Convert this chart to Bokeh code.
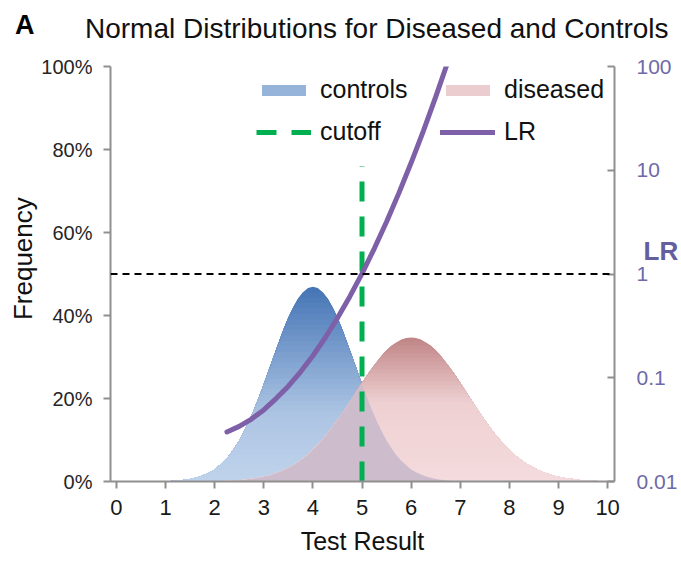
import json
import numpy as np
from bokeh.plotting import figure
from bokeh.models import (Range1d, LogScale, LogAxis, LinearAxis, FixedTicker,
                          NumeralTickFormatter, CustomJSTickFormatter, Span, Legend, LegendItem)
from bokeh.embed import file_html
from bokeh.resources import INLINE

# ---- data -------------------------------------------------------------
test_result = [round(0.1 * i, 1) for i in range(101)]          # 0.0 ... 10.0

# frequency (%) of each test result among controls
controls_pct = [0.0, 0.0, 0.0, 0.0, 0.0, 0.0, 0.0, 0.0, 0.0, 0.1,
                0.1, 0.1, 0.2, 0.3, 0.4, 0.6, 0.9, 1.2, 1.7, 2.2,
                2.9, 3.9, 5.0, 6.3, 8.0, 9.9, 12.1, 14.6, 17.3, 20.3,
                23.5, 26.8, 30.1, 33.4, 36.6, 39.5, 42.0, 44.1, 45.6, 46.6,
                46.9, 46.6, 45.6, 44.1, 42.0, 39.5, 36.6, 33.4, 30.1, 26.8,
                23.5, 20.3, 17.3, 14.6, 12.1, 9.9, 8.0, 6.3, 5.0, 3.9,
                2.9, 2.2, 1.7, 1.2, 0.9, 0.6, 0.4, 0.3, 0.2, 0.1,
                0.1, 0.1, 0.0, 0.0, 0.0, 0.0, 0.0, 0.0, 0.0, 0.0,
                0.0, 0.0, 0.0, 0.0, 0.0, 0.0, 0.0, 0.0, 0.0, 0.0,
                0.0, 0.0, 0.0, 0.0, 0.0, 0.0, 0.0, 0.0, 0.0, 0.0, 0.0]

# frequency (%) of each test result among diseased
diseased_pct = [0.0, 0.0, 0.0, 0.0, 0.0, 0.0, 0.0, 0.0, 0.0, 0.0,
                0.0, 0.0, 0.0, 0.0, 0.0, 0.0, 0.0, 0.0, 0.0, 0.1,
                0.1, 0.1, 0.1, 0.2, 0.3, 0.3, 0.4, 0.6, 0.7, 0.9,
                1.2, 1.4, 1.8, 2.2, 2.7, 3.3, 3.9, 4.7, 5.6, 6.5,
                7.7, 8.9, 10.2, 11.6, 13.2, 14.8, 16.5, 18.3, 20.1, 22.0,
                23.8, 25.6, 27.2, 28.8, 30.3, 31.6, 32.7, 33.5, 34.2, 34.6,
                34.7, 34.6, 34.2, 33.5, 32.7, 31.6, 30.3, 28.8, 27.2, 25.6,
                23.8, 22.0, 20.1, 18.3, 16.5, 14.8, 13.2, 11.6, 10.2, 8.9,
                7.7, 6.5, 5.6, 4.7, 3.9, 3.3, 2.7, 2.2, 1.8, 1.4,
                1.2, 0.9, 0.7, 0.6, 0.4, 0.3, 0.3, 0.2, 0.1, 0.1, 0.1]

# likelihood ratio (diseased / controls) along the test result
lr_x = [2.25, 2.5, 2.75, 3.0, 3.25, 3.5, 3.75, 4.0, 4.25, 4.5,
        4.75, 5.0, 5.25, 5.5, 5.75, 6.0, 6.25, 6.5, 6.75]
lr_values = [0.030, 0.034, 0.040, 0.049, 0.063, 0.083, 0.114, 0.163, 0.243, 0.376,
             0.605, 1.01, 1.76, 3.19, 6.02, 11.8, 24.0, 50.9, 112.0]

cutoff = 5.0
cutoff_top = 0.76
x_ticks = list(range(0, 11))
freq_ticks = [0, 0.2, 0.4, 0.6, 0.8, 1.0]
lr_ticks = [0.01, 0.1, 1, 10, 100]

panel_letter = "A"
title_text = "Normal Distributions for Diseased and Controls"
# anchors (test-result / frequency / LR units) for the heading and axis names
letter_at = -0.11
title_at = 5.30
freq_name_at = 0.537
lr_name_at = 1.68

FONT = "Liberation Sans"

x = np.array(test_result)
controls = np.array(controls_pct) / 100.0
diseased = np.array(diseased_pct) / 100.0

# ---- chart ------------------------------------------------------------
p = figure(width=681, height=561,
           x_range=Range1d(-0.12, 10.14), y_range=Range1d(0, 1),
           output_backend="svg", toolbar_location=None,
           min_border_left=110, min_border_right=67,
           min_border_top=66, min_border_bottom=80)
p.outline_line_color = None
p.grid.visible = False
p.background_fill_color = "white"
p.border_fill_color = "white"

p.extra_y_ranges = {"lr": Range1d(0.01, 100)}
p.extra_y_scales = {"lr": LogScale()}


def mix(stops, t):
    """Piecewise-linear colour ramp; stops = [(t, (r,g,b)), ...] ascending."""
    for (t0, c0), (t1, c1) in zip(stops[:-1], stops[1:]):
        if t <= t1:
            f = (t - t0) / (t1 - t0) if t1 > t0 else 0
            return "#%02x%02x%02x" % tuple(int(round(a + (b - a) * f)) for a, b in zip(c0, c1))
    return "#%02x%02x%02x" % stops[-1][1]


def gradient_area(vals, stops, bands=36):
    """Vertical gradient fill: opaque layers painted from the top band down."""
    peak = vals.max()
    layers = {}
    for k in range(bands, 0, -1):
        level = peak * k / bands
        col = mix(stops, (k - 0.5) / bands)
        layers[k] = p.varea(x=x, y1=0, y2=np.minimum(vals, level),
                            fill_color=col, fill_alpha=1.0)
    return layers


blue_stops = [(0.0, (192, 211, 235)), (0.35, (172, 196, 227)), (1.0, (68, 116, 181))]
pink_stops = [(0.0, (244, 219, 221)), (0.55, (238, 208, 210)), (1.0, (192, 132, 133))]

ctrl_layers = gradient_area(controls, blue_stops)
dis_layers = gradient_area(diseased, pink_stops)
# region under both curves
p.varea(x=x, y1=0, y2=np.minimum(controls, diseased), fill_color="#cdbccb")

# LR = 1 reference line
p.add_layout(Span(location=1, dimension="width", y_range_name="lr",
                  line_color="black", line_width=2, line_dash="7 5"))

# cutoff
cut_r = p.line(x=[cutoff, cutoff], y=[0, cutoff_top], line_color="#00b050",
               line_width=5, line_dash="20 15")

# likelihood ratio
lr_r = p.line(x=lr_x, y=lr_values, y_range_name="lr", line_color="#7d60a8",
              line_width=5, line_cap="round")

legend = Legend(items=[LegendItem(label="controls", renderers=[ctrl_layers[18]]),
                       LegendItem(label="cutoff", renderers=[cut_r]),
                       LegendItem(label="diseased", renderers=[dis_layers[21]]),
                       LegendItem(label="LR", renderers=[lr_r])],
                ncols=2, location=(146, 335),
                label_text_font=FONT, label_text_font_size="25px",
                label_text_color="#111111",
                glyph_width=55, glyph_height=14, label_standoff=9,
                label_width=107, spacing=13, padding=0, margin=0,
                border_line_color=None, background_fill_alpha=0)
p.add_layout(legend, "center")

# ---- axes -------------------------------------------------------------
axis_gray = "#8f8f8f"

xa = p.xaxis[0]
xa.ticker = FixedTicker(ticks=x_ticks)
xa.axis_label = "Test Result"
xa.axis_label_text_font = FONT
xa.axis_label_text_font_size = "25px"
xa.axis_label_text_font_style = "normal"
xa.axis_label_text_color = "#111111"
xa.axis_label_standoff = 9
xa.major_label_text_font = FONT
xa.major_label_text_font_size = "22px"
xa.major_label_text_color = "#1a1a1a"
xa.major_label_standoff = 11

ya = p.yaxis[0]
ya.ticker = FixedTicker(ticks=freq_ticks)
ya.formatter = NumeralTickFormatter(format="0%")
ya.major_label_text_font = FONT
ya.major_label_text_font_size = "20px"
ya.major_label_text_color = "#262626"
ya.major_label_standoff = 11

ra = LogAxis(y_range_name="lr", ticker=FixedTicker(ticks=lr_ticks),
             formatter=CustomJSTickFormatter(code="return tick.toString();"))
ra.major_label_text_font = FONT
ra.major_label_text_font_size = "21px"
ra.major_label_text_color = "#6e6aa8"
ra.major_label_standoff = 22
ra.major_tick_in = 7
ra.major_tick_out = 0
p.add_layout(ra, "right")

for ax in (xa, ya, ra):
    ax.axis_line_color = axis_gray
    ax.axis_line_width = 2
    ax.major_tick_line_color = axis_gray
    ax.major_tick_line_width = 2
    ax.minor_tick_line_color = None
for ax in (xa, ya):
    ax.major_tick_in = 0
    ax.major_tick_out = 7


def text_axis(axis, text, size, style, color, standoff):
    """A bare axis that only carries one piece of text at its single tick."""
    axis.formatter = CustomJSTickFormatter(code="return %s;" % json.dumps(text))
    axis.axis_line_color = None
    axis.major_tick_line_color = None
    axis.minor_tick_line_color = None
    axis.major_tick_in = 0
    axis.major_tick_out = 0
    axis.major_label_standoff = standoff
    axis.major_label_text_font = FONT
    axis.major_label_text_font_size = size
    axis.major_label_text_font_style = style
    axis.major_label_text_color = color
    return axis


# name of the frequency scale, upright along the left side
freq_name = text_axis(LinearAxis(ticker=FixedTicker(ticks=[freq_name_at])),
                      "Frequency", "26px", "normal", "#111111", 0)
freq_name.major_label_orientation = "parallel"
p.add_layout(freq_name, "left")

# name of the LR scale, in the column of the LR tick labels
p.add_layout(text_axis(LogAxis(y_range_name="lr", ticker=FixedTicker(ticks=[lr_name_at])),
                       "LR", "26px", "bold", "#625ea0", -37), "right")

# heading: title, and on the same line the panel letter at the far left
# (the letter is padded with no-break spaces so that it sits left of the frame)
p.add_layout(text_axis(LinearAxis(ticker=FixedTicker(ticks=[title_at])),
                       title_text, "28px", "normal", "#111111", 23), "above")
p.add_layout(text_axis(LinearAxis(ticker=FixedTicker(ticks=[letter_at])),
                       panel_letter + "\u00a0" * 23, "27px", "bold", "black", -30), "above")

open("out.html", "w").write(file_html(p, INLINE))
